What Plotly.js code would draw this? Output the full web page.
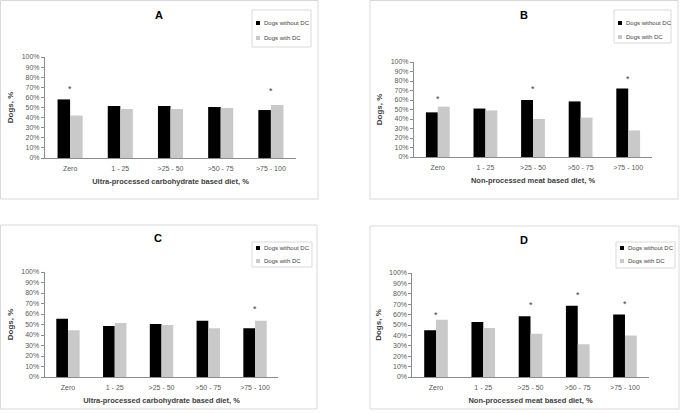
<!DOCTYPE html>
<html>
<head>
<meta charset="utf-8">
<script src="https://cdn.plot.ly/plotly-3.0.1.min.js"></script>
<style>
  body { margin: 0; background: #fff; }
  #chart { width: 685px; height: 413px; }
</style>
</head>
<body>
<div id="chart"></div>
<script>
// categories and values
let categories = ['Zero', '1 - 25', '>25 - 50', '>50 - 75', '>75 - 100'];

let withoutA = [58, 51.5, 51.5, 50.5, 47.5];
let withA = [42, 48.5, 48.5, 49.5, 52.5];
let starA = [68, null, null, null, 66];

let withoutB = [47, 51, 60, 58.5, 72];
let withB = [53, 49, 40, 41.5, 28];
let starB = [61, null, 71.5, null, 82];

let withoutC = [55.5, 48.5, 50.5, 53.5, 46.5];
let withC = [44.5, 51.5, 49.5, 46.5, 53.5];
let starC = [null, null, null, null, 65];

let withoutD = [45, 53, 58.5, 68.5, 60];
let withD = [55, 47, 41.5, 31.5, 40];
let starD = [60, null, 69, 79, 70];

let seriesNames = ['Dogs without DC', 'Dogs with DC'];
let panelTitles = ['A', 'B', 'C', 'D'];
let xTitles = [
    'Ultra-processed carbohydrate based diet, %',
    'Non-processed meat based diet, %',
    'Ultra-processed carbohydrate based diet, %',
    'Non-processed meat based diet, %'
];

const W = 685, H = 413;
const fx = px => px / W;
const fy = py => 1 - py / H;

const BLACK = '#000000';
const GREY = '#c9c9c9';
const FONT = 'Liberation Sans, Arial, sans-serif';
const colors = [BLACK, GREY];

let withoutVals = [withoutA, withoutB, withoutC, withoutD];
let withVals = [withA, withB, withC, withD];
let starVals = [starA, starB, starC, starD];

// plot boxes in pixels: [left, right, top(100%), bottom(0%)]
let boxes = [
    [45, 296, 57, 158],
    [414, 652, 62, 157],
    [44.6, 278.4, 272, 377],
    [412.4, 648.6, 273, 377]
];
// panel frames [x0, y0, x1, y1]
let frames = [
    [0.5, 0.5, 318, 199],
    [370, 0.5, 678, 199],
    [0.5, 225, 317, 409],
    [370, 226, 679, 409]
];
let titlePos = [[159, 15], [524, 15], [158, 238], [524, 240]];
// legend boxes [x0, y0, x1, y1] and the two item rows (y)
let legendBox = [
    [252, 10, 311, 47],
    [614, 10, 671, 43],
    [252, 242, 312, 267],
    [616, 242, 675, 268]
];
let legendRows = [[23, 38], [23, 37], [248, 261], [248, 261]];

let data = [];
let layout = {
    width: W,
    height: H,
    margin: {l: 0, r: 0, t: 0, b: 0},
    paper_bgcolor: '#ffffff',
    plot_bgcolor: 'rgba(0,0,0,0)',
    font: {family: FONT, color: '#595959'},
    barmode: 'group',
    bargap: 0.5,
    bargroupgap: 0,
    showlegend: false,
    shapes: [],
    annotations: []
};

for (let i = 0; i < 4; i++) {
    let n = i === 0 ? '' : String(i + 1);
    let b = boxes[i];

    data.push({
        type: 'bar',
        name: seriesNames[0],
        x: categories,
        y: withoutVals[i],
        marker: {color: BLACK},
        xaxis: 'x' + n,
        yaxis: 'y' + n
    });
    data.push({
        type: 'bar',
        name: seriesNames[1],
        x: categories,
        y: withVals[i],
        marker: {color: GREY},
        xaxis: 'x' + n,
        yaxis: 'y' + n
    });

    layout['xaxis' + n] = {
        domain: [fx(b[0]), fx(b[1])],
        anchor: 'y' + n,
        type: 'category',
        showline: true,
        linecolor: '#8c8c8c',
        linewidth: 1,
        ticks: '',
        showgrid: false,
        tickfont: {size: 7, color: '#595959'},
        ticklabelstandoff: 4,
        title: {text: '<b>' + xTitles[i] + '</b>', font: {size: 7.5, color: '#404040'}, standoff: 7},
        fixedrange: true
    };
    layout['yaxis' + n] = {
        domain: [fy(b[3]), fy(b[2])],
        anchor: 'x' + n,
        range: [0, 100],
        dtick: 10,
        ticksuffix: '%',
        showline: true,
        linecolor: '#8c8c8c',
        linewidth: 1,
        ticks: 'outside',
        ticklen: 3,
        tickcolor: '#8c8c8c',
        showgrid: false,
        zeroline: false,
        tickfont: {size: 7, color: '#595959'},
        title: {text: '<b>Dogs, %</b>', font: {size: 8, color: '#404040'}, standoff: 6},
        fixedrange: true
    };

    // panel frame
    let f = frames[i];
    layout.shapes.push({
        type: 'rect', xref: 'paper', yref: 'paper',
        x0: fx(f[0]), x1: fx(f[2]), y0: fy(f[3]), y1: fy(f[1]),
        line: {color: '#d9d9d9', width: 1},
        layer: 'below'
    });

    // Excel-style legend: bordered box, tiny square key, text beside it
    let lb = legendBox[i];
    layout.shapes.push({
        type: 'rect', xref: 'paper', yref: 'paper',
        x0: fx(lb[0]), x1: fx(lb[2]), y0: fy(lb[3]), y1: fy(lb[1]),
        line: {color: '#d9d9d9', width: 1},
        fillcolor: '#ffffff'
    });
    legendRows[i].forEach((ry, k) => {
        let kx = lb[0] + 4;
        layout.shapes.push({
            type: 'rect', xref: 'paper', yref: 'paper',
            x0: fx(kx), x1: fx(kx + 4), y0: fy(ry + 2), y1: fy(ry - 2),
            line: {width: 0},
            fillcolor: colors[k]
        });
        layout.annotations.push({
            xref: 'paper', yref: 'paper',
            x: fx(kx + 6), y: fy(ry),
            text: seriesNames[k],
            showarrow: false,
            font: {size: 6, color: '#404040'},
            xanchor: 'left', yanchor: 'middle'
        });
    });

    let tp = titlePos[i];
    layout.annotations.push({
        xref: 'paper', yref: 'paper',
        x: fx(tp[0]), y: fy(tp[1]),
        text: '<b>' + panelTitles[i] + '</b>',
        showarrow: false,
        font: {size: 11, color: '#000000'},
        xanchor: 'center', yanchor: 'middle'
    });

    starVals[i].forEach((v, k) => {
        if (v === null) return;
        layout.annotations.push({
            xref: 'x' + n, yref: 'y' + n,
            x: categories[k], y: v,
            text: '*',
            showarrow: false,
            font: {size: 9, color: '#404040'},
            xanchor: 'center', yanchor: 'middle'
        });
    });
}

Plotly.newPlot('chart', data, layout, {displayModeBar: false, staticPlot: true});
</script>
</body>
</html>
